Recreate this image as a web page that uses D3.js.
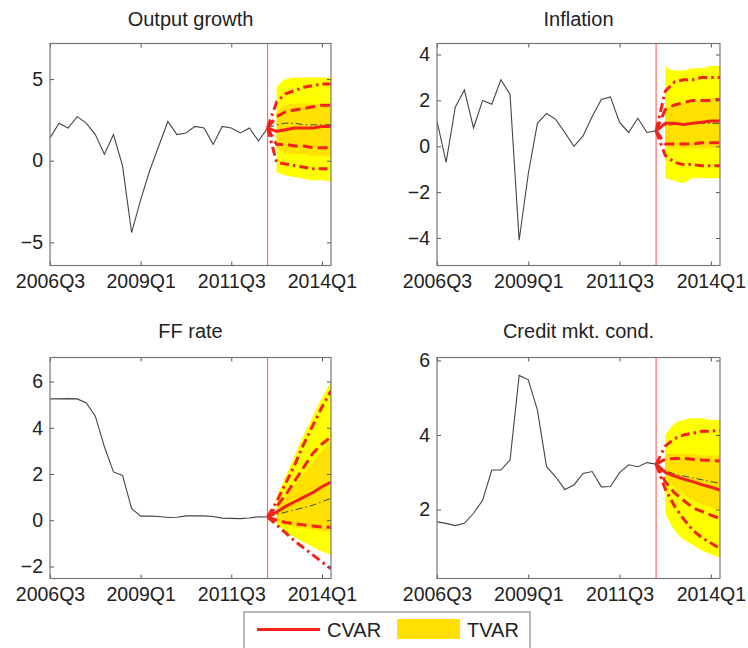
<!DOCTYPE html>
<html><head><meta charset="utf-8">
<script src="https://cdn.jsdelivr.net/npm/d3@7/dist/d3.min.js"></script>
<style>
body{margin:0;background:#fff}
svg text{font-family:"Liberation Sans",Arial,Helvetica,sans-serif;fill:#222}
</style>
</head><body>
<svg id="chart" width="748" height="648"></svg>
<script>
// ---------- data ----------
const quarters = ["2006Q3","2006Q4","2007Q1","2007Q2","2007Q3","2007Q4","2008Q1","2008Q2","2008Q3","2008Q4",
  "2009Q1","2009Q2","2009Q3","2009Q4","2010Q1","2010Q2","2010Q3","2010Q4","2011Q1","2011Q2",
  "2011Q3","2011Q4","2012Q1","2012Q2","2012Q3","2012Q4","2013Q1","2013Q2","2013Q3","2013Q4",
  "2014Q1","2014Q2"];
const xTickLabels = ["2006Q3","2009Q1","2011Q3","2014Q1"];
const forecastStart = "2012Q3";
const titles = ["Output growth","Inflation","FF rate","Credit mkt. cond."];
const legendLabels = ["CVAR","TVAR"];

// Output growth
const outputHist = [1.4,2.3,2.0,2.7,2.3,1.6,0.4,1.6,-0.3,-4.4,-2.4,-0.6,0.9,2.4,1.6,1.7,2.1,2.0,1.0,2.1,2.0,1.7,2.0,1.2,2.0];
const outputCvarMed  = [2.0,1.8,1.9,2.0,2.0,2.0,2.1,2.1];
const outputCvar68Hi = [2.0,2.7,3.0,3.1,3.2,3.3,3.4,3.4];
const outputCvar68Lo = [2.0,1.0,1.0,0.9,0.9,0.8,0.8,0.8];
const outputCvar90Hi = [2.0,3.6,4.1,4.3,4.5,4.6,4.7,4.7];
const outputCvar90Lo = [2.0,-0.1,-0.2,-0.3,-0.4,-0.5,-0.5,-0.5];
const outputTvarMed  = [2.0,2.2,2.3,2.3,2.2,2.2,2.2,2.2];
const outputTvar68Hi = [3.0,3.4,3.5,3.5,3.5,3.4,3.4];
const outputTvar68Lo = [0.8,0.5,0.4,0.4,0.3,0.3,0.3];
const outputTvar90Hi = [4.5,5.0,5.1,5.1,5.1,5.1,5.1];
const outputTvar90Lo = [-0.7,-0.9,-1.0,-1.1,-1.2,-1.2,-1.3];

// Inflation
const inflHist = [1.1,-0.7,1.7,2.45,0.8,2.0,1.83,2.9,2.26,-4.1,-1.2,1.0,1.43,1.17,0.6,0.0,0.45,1.3,2.04,2.15,1.04,0.6,1.22,0.6,0.67];
const inflCvarMed  = [0.67,1.0,1.0,0.95,1.0,1.05,1.1,1.1];
const inflCvar68Hi = [0.67,1.6,1.8,1.9,2.0,2.0,2.0,2.05];
const inflCvar68Lo = [0.67,0.1,0.1,0.1,0.1,0.15,0.15,0.15];
const inflCvar90Hi = [0.67,2.4,2.8,2.9,2.9,3.0,3.0,3.0];
const inflCvar90Lo = [0.67,-0.4,-0.7,-0.8,-0.8,-0.85,-0.85,-0.85];
const inflTvarMed  = [0.67,0.9,0.95,0.95,1.0,1.0,1.0,1.0];
const inflTvar68Hi = [1.6,1.8,1.9,2.0,2.0,2.1,2.1];
const inflTvar68Lo = [0.0,-0.1,-0.1,-0.1,-0.1,-0.1,-0.1];
const inflTvar90Hi = [3.5,3.3,3.3,3.4,3.4,3.5,3.5];
const inflTvar90Lo = [-1.4,-1.5,-1.6,-1.4,-1.4,-1.4,-1.4];

// FF rate
const ffHist = [5.25,5.25,5.26,5.25,5.07,4.5,3.18,2.09,1.94,0.51,0.18,0.18,0.16,0.12,0.13,0.19,0.19,0.19,0.16,0.09,0.08,0.07,0.10,0.15,0.14];
const ffCvarMed  = [0.14,0.35,0.6,0.8,1.0,1.2,1.45,1.65];
const ffCvar68Hi = [0.14,0.6,1.1,1.7,2.3,2.9,3.3,3.6];
const ffCvar68Lo = [0.14,0.0,-0.1,-0.15,-0.2,-0.25,-0.3,-0.3];
const ffCvar90Hi = [0.14,0.8,1.6,2.4,3.3,4.1,4.9,5.6];
const ffCvar90Lo = [0.14,-0.2,-0.55,-0.9,-1.2,-1.5,-1.8,-2.1];
const ffTvarMed  = [0.14,0.25,0.35,0.45,0.55,0.65,0.8,0.95];
const ffTvar68Hi = [0.5,1.0,1.5,2.0,2.5,3.0,3.4];
const ffTvar68Lo = [-0.05,-0.2,-0.3,-0.35,-0.4,-0.45,-0.5];
const ffTvar90Hi = [1.0,1.9,2.8,3.7,4.5,5.3,6.0];
const ffTvar90Lo = [-0.2,-0.5,-0.75,-0.95,-1.15,-1.35,-1.5];

// Credit market conditions
const creditHist = [1.67,1.63,1.57,1.63,1.9,2.25,3.06,3.06,3.33,5.6,5.48,4.67,3.15,2.88,2.54,2.66,2.97,3.02,2.61,2.62,2.99,3.2,3.15,3.26,3.22];
const creditCvarMed  = [3.22,3.0,2.9,2.82,2.75,2.67,2.6,2.52];
const creditCvar68Hi = [3.22,3.35,3.37,3.37,3.35,3.33,3.32,3.3];
const creditCvar68Lo = [3.22,2.75,2.45,2.25,2.05,1.95,1.85,1.76];
const creditCvar90Hi = [3.22,3.7,3.9,4.0,4.05,4.1,4.1,4.13];
const creditCvar90Lo = [3.22,2.55,2.1,1.75,1.45,1.25,1.1,0.95];
const creditTvarMed  = [3.22,3.05,2.95,2.9,2.85,2.8,2.75,2.7];
const creditTvar68Hi = [3.5,3.5,3.5,3.5,3.45,3.45,3.45];
const creditTvar68Lo = [2.9,2.6,2.4,2.25,2.15,2.05,2.0];
const creditTvar90Hi = [4.0,4.3,4.4,4.45,4.45,4.4,4.4];
const creditTvar90Lo = [1.9,1.45,1.2,1.05,0.9,0.8,0.7];

const outputYTicks = [-5,0,5];
const inflYTicks = [-4,-2,0,2,4];
const ffYTicks = [-2,0,2,4,6];
const creditYTicks = [2,4,6];

// ---------- panels ----------
const panels = [
  {title:titles[0], hist:outputHist, cMed:outputCvarMed, c68h:outputCvar68Hi, c68l:outputCvar68Lo, c90h:outputCvar90Hi, c90l:outputCvar90Lo,
   tMed:outputTvarMed, t68h:outputTvar68Hi, t68l:outputTvar68Lo, t90h:outputTvar90Hi, t90l:outputTvar90Lo, yTicks:outputYTicks,
   yDom:[-6.42,7.18], box:{x0:50,x1:331,y0:43.5,y1:265.5}, titleY:26},
  {title:titles[1], hist:inflHist, cMed:inflCvarMed, c68h:inflCvar68Hi, c68l:inflCvar68Lo, c90h:inflCvar90Hi, c90l:inflCvar90Lo,
   tMed:inflTvarMed, t68h:inflTvar68Hi, t68l:inflTvar68Lo, t90h:inflTvar90Hi, t90l:inflTvar90Lo, yTicks:inflYTicks,
   yDom:[-5.2,4.48], box:{x0:437,x1:720,y0:43.5,y1:265.5}, titleY:26},
  {title:titles[2], hist:ffHist, cMed:ffCvarMed, c68h:ffCvar68Hi, c68l:ffCvar68Lo, c90h:ffCvar90Hi, c90l:ffCvar90Lo,
   tMed:ffTvarMed, t68h:ffTvar68Hi, t68l:ffTvar68Lo, t90h:ffTvar90Hi, t90l:ffTvar90Lo, yTicks:ffYTicks,
   yDom:[-2.52,7.04], box:{x0:50,x1:331,y0:357.5,y1:578.5}, titleY:338},
  {title:titles[3], hist:creditHist, cMed:creditCvarMed, c68h:creditCvar68Hi, c68l:creditCvar68Lo, c90h:creditCvar90Hi, c90l:creditCvar90Lo,
   tMed:creditTvarMed, t68h:creditTvar68Hi, t68l:creditTvar68Lo, t90h:creditTvar90Hi, t90l:creditTvar90Lo, yTicks:creditYTicks,
   yDom:[0.15,6.08], box:{x0:437,x1:720,y0:357.5,y1:578.5}, titleY:338}
];

const svg = d3.select("#chart");
const RED = "#f4221a";
const fs = 19.5;
const fStart = quarters.indexOf(forecastStart);

panels.forEach((p, k) => {
  const b = p.box;
  const x = d3.scaleLinear().domain([0, quarters.length - 1]).range([b.x0, b.x1]);
  const y = d3.scaleLinear().domain(p.yDom).range([b.y1, b.y0]);
  const g = svg.append("g");
  const clipId = "clip" + k;
  g.append("clipPath").attr("id", clipId).append("rect")
    .attr("x", b.x0).attr("y", b.y0).attr("width", b.x1 - b.x0).attr("height", b.y1 - b.y0);
  const pg = g.append("g").attr("clip-path", `url(#${clipId})`);

  const bandIdx = d3.range(p.t90h.length).map(j => fStart + 1 + j);
  const area = (hi, lo) => d3.area().x((d, j) => x(bandIdx[j])).y0((d, j) => y(lo[j])).y1((d, j) => y(hi[j])).curve(d3.curveMonotoneX);
  pg.append("path").datum(p.t90h).attr("d", area(p.t90h, p.t90l)).attr("fill", "#ffff00");
  pg.append("path").datum(p.t68h).attr("d", area(p.t68h, p.t68l)).attr("fill", "#ffe000");

  const histLine = d3.line().x((d, i) => x(i)).y(d => y(d));
  pg.append("path").datum(p.hist).attr("d", histLine).attr("fill", "none").attr("stroke", "#444").attr("stroke-width", 1.1);

  // forecast origin line
  pg.append("line").attr("x1", x(fStart)).attr("x2", x(fStart)).attr("y1", b.y0).attr("y2", b.y1)
    .attr("stroke", "#ff6a6a").attr("stroke-width", 1.2);

  const fLine = d3.line().x((d, j) => x(fStart + j)).y(d => y(d));
  pg.append("path").datum(p.tMed).attr("d", fLine).attr("fill", "none").attr("stroke", "#3a4a2a")
    .attr("stroke-width", 1).attr("stroke-dasharray", "7,3,1.5,3");
  const styles = [
    [p.c90h, "9,4,2.5,4"], [p.c90l, "9,4,2.5,4"],
    [p.c68h, "10,5"], [p.c68l, "10,5"],
    [p.cMed, null]
  ];
  styles.forEach(([arr, dash]) => {
    const path = pg.append("path").datum(arr).attr("d", fLine).attr("fill", "none")
      .attr("stroke", RED).attr("stroke-width", 3).attr("stroke-linejoin", "round");
    if (dash) path.attr("stroke-dasharray", dash);
  });

  // axes (ticks pointing inward on all four sides)
  const xt = xTickLabels.map(s => quarters.indexOf(s));
  g.append("g").attr("transform", `translate(0,${b.y1})`)
    .call(d3.axisBottom(x).tickValues(xt).tickFormat(i => quarters[i]).tickSizeInner(-4).tickSizeOuter(0).tickPadding(9));
  g.append("g").attr("transform", `translate(0,${b.y0})`)
    .call(d3.axisTop(x).tickValues(xt).tickFormat("").tickSizeInner(-4).tickSizeOuter(0));
  g.append("g").attr("transform", `translate(${b.x0},0)`)
    .call(d3.axisLeft(y).tickValues(p.yTicks).tickFormat(d3.format("d")).tickSizeInner(-4).tickSizeOuter(0).tickPadding(7));
  g.append("g").attr("transform", `translate(${b.x1},0)`)
    .call(d3.axisRight(y).tickValues(p.yTicks).tickFormat("").tickSizeInner(-4).tickSizeOuter(0));
  g.selectAll(".domain").remove();
  g.selectAll(".tick line").attr("stroke", "#555");
  g.selectAll(".tick text").attr("font-size", fs).attr("fill", "#1a1a1a").style("font-family", null);

  g.append("rect").attr("x", b.x0).attr("y", b.y0).attr("width", b.x1 - b.x0).attr("height", b.y1 - b.y0)
    .attr("fill", "none").attr("stroke", "#777").attr("stroke-width", 1.2);

  g.append("text").attr("x", (b.x0 + b.x1) / 2).attr("y", p.titleY).attr("text-anchor", "middle")
    .attr("font-size", 20).text(p.title);
});

// legend
const lg = svg.append("g");
lg.append("rect").attr("x", 244).attr("y", 612).attr("width", 286).attr("height", 44)
  .attr("fill", "#fff").attr("stroke", "#888").attr("stroke-width", 1.2);
lg.append("line").attr("x1", 257).attr("x2", 320).attr("y1", 629.5).attr("y2", 629.5).attr("stroke", RED).attr("stroke-width", 3);
lg.append("text").attr("x", 327).attr("y", 637).attr("font-size", 20).text(legendLabels[0]);
lg.append("rect").attr("x", 397).attr("y", 619).attr("width", 63).attr("height", 20).attr("fill", "#ffe000");
lg.append("text").attr("x", 467).attr("y", 637).attr("font-size", 20).text(legendLabels[1]);
</script>
</body></html>
